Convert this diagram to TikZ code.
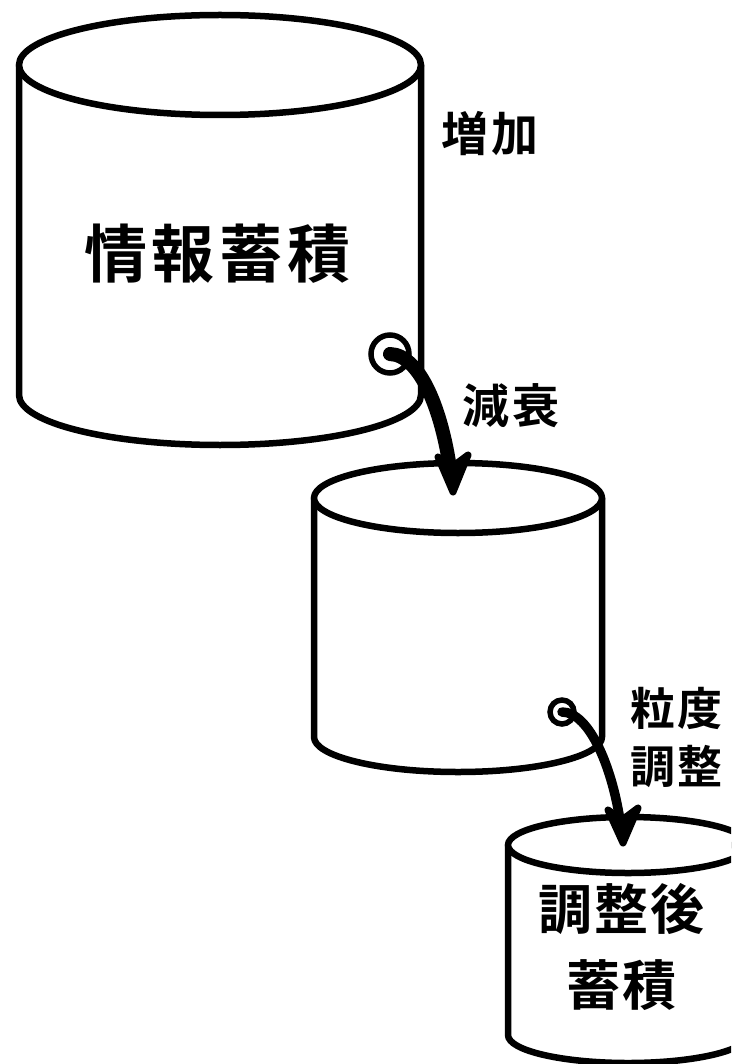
\documentclass[tikz,border=0pt]{standalone}
\usepackage{fontspec}
\newfontfamily\jp{Noto Sans CJK JP}[BoldFont={Noto Sans CJK JP Bold}]
\newcommand{\cylshape}[6]{% cx, ytop, ybot, rx, ry, name
  \filldraw[cyl] ({#1-#4},#2) -- ({#1-#4},#3) arc[start angle=180,end angle=0,x radius=#4,y radius=#5] -- ({#1+#4},#2) -- cycle;
  \draw[cyl] (#1,#2) ellipse[x radius=#4,y radius=#5];
  \coordinate (#6) at (#1,#2);
}
\begin{document}
\begin{tikzpicture}[x=1pt,y=-1pt,
  cyl/.style={draw=black,fill=white,line width=6.5pt,line join=round},
  ring/.style={circle,draw=black,fill=white,line width=5.5pt,inner sep=0pt},
  flow/.style={draw=black,line cap=round},
  headtip/.style={draw=black,fill=black,line width=7pt,line join=round},
  lbl/.style={inner sep=0pt,align=center,text=black}]
\useasboundingbox (0,0) rectangle (731,1064);
\begin{scope}
\clip (0,0) rectangle (731,1064);
\cylshape{220}{65}{395}{201}{50}{cylA}
\cylshape{458}{498}{737}{144}{35}{cylB}
\cylshape{628}{845}{1035}{120}{28}{cylC}
\end{scope}
\node[ring,minimum size=38pt] (r1) at (390,354) {};
\node[ring,minimum size=24pt] (r2) at (562,712) {};
% arrow 1
\coordinate (h1) at (450.5,472);
\coordinate (t1) at (453,492);
\coordinate (e1a) at (438,457);
\coordinate (e1b) at (468,455);
\coordinate (n1) at (452,467);
\draw[flow,line width=14pt] (r1.center) .. controls (420,355) and (442,410) .. (h1);
\filldraw[headtip] (t1) -- (e1a) -- (n1) -- (e1b) -- cycle;
% arrow 2
\coordinate (h2) at (620.5,824);
\coordinate (t2) at (623,843);
\coordinate (e2a) at (608,810);
\coordinate (e2b) at (638,808);
\coordinate (n2) at (622,820);
\draw[flow,line width=9.5pt] (r2.center) .. controls (590,712) and (613,770) .. (h2);
\filldraw[headtip] (t2) -- (e2a) -- (n2) -- (e2b) -- cycle;
\node[lbl,font=\jp\bfseries\fontsize{63}{70}\selectfont] (tA) at (217.5,254) {情\hspace{5pt}報\hspace{5pt}蓄\hspace{5pt}積};
\node[lbl,font=\jp\bfseries\fontsize{47}{54}\selectfont] (tInc) at (490,134) {増\hspace{3pt}加};
\node[lbl,font=\jp\bfseries\fontsize{47}{54}\selectfont] (tDec) at (511,406) {減\hspace{3pt}衰};
\node[lbl,font=\jp\bfseries\fontsize{45}{58}\selectfont] (tGran) at (676.5,737) {粒\hspace{3pt}度\\調\hspace{3pt}整};
\node[lbl,font=\jp\bfseries\fontsize{54}{76}\selectfont] (tC) at (621.5,947) {調\hspace{2pt}整\hspace{2pt}後\\蓄\hspace{2pt}積};
\end{tikzpicture}
\end{document}
